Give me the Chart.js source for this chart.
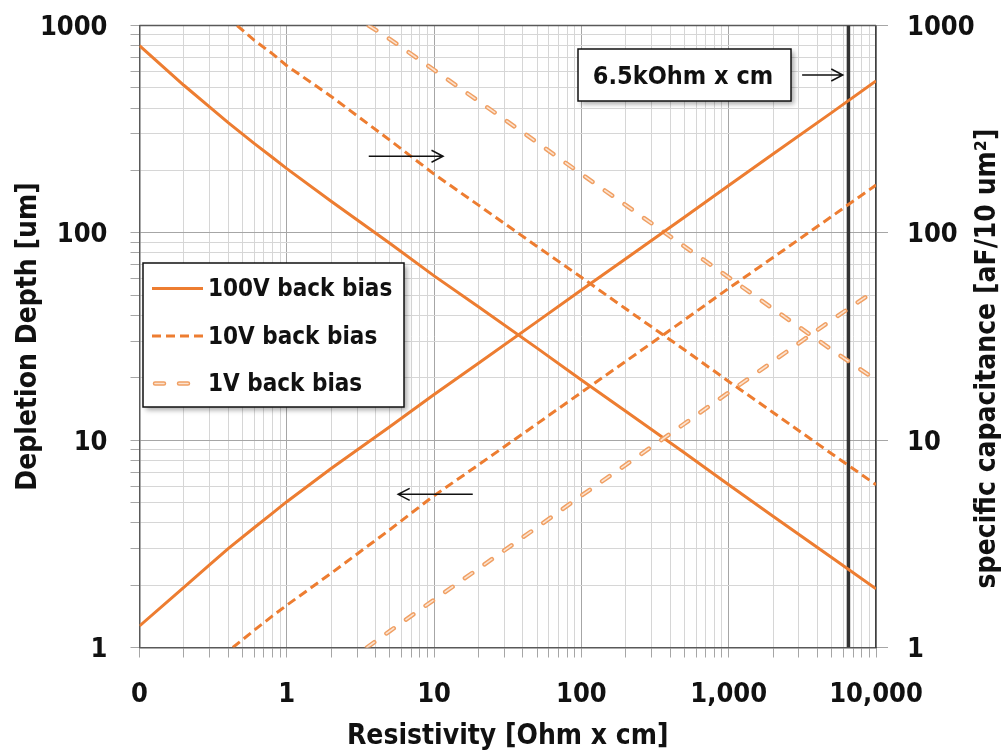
<!DOCTYPE html>
<html lang="en">
<head>
  <meta charset="UTF-8">
  <title>Depletion depth and capacitance vs resistivity</title>
  <script src="https://cdn.jsdelivr.net/npm/chart.js"></script>
  <style>
    body {
      margin: 0;
      background: #fff;
    }
    #wrap {
      width: 1006px;
      height: 755px;
    }
  </style>
</head>
<body>

  <div id="wrap"><canvas id="grafico"></canvas></div>

  <script>
    // depletion depth [um] vs resistivity [Ohm x cm]
    const rho100 = [0.1, 0.2, 0.3, 0.4, 0.6, 0.8, 1, 2, 5, 10, 20, 50, 100, 200, 500, 1000, 2000, 5000, 10000];
    const depth100 = [1.27, 1.95, 2.51, 3.0, 3.78, 4.45, 5.05, 7.3, 11.6, 16.6, 23.5, 37.3, 53, 75, 119, 169, 240, 380, 540];
    const rho10 = [0.43, 0.6, 0.8, 1, 2, 5, 10, 20, 50, 100, 200, 500, 1000, 2000, 5000, 10000];
    const depth10 = [1.0, 1.21, 1.42, 1.6, 2.28, 3.7, 5.4, 7.6, 12.0, 17.0, 24, 38, 54, 76, 120, 170];
    const rho1 = [3.5, 5, 10, 20, 50, 100, 200, 500, 1000, 2000, 5000, 10000];
    const depth1 = [1.0, 1.2, 1.7, 2.4, 3.8, 5.4, 7.6, 12.0, 17.0, 24, 38, 53];

    // specific capacitance [aF/10 um2] vs resistivity
    const rhoCap100 = [0.1, 0.2, 0.3, 0.4, 0.6, 0.8, 1, 2, 5, 10, 20, 50, 100, 200, 500, 1000, 2000, 5000, 10000];
    const cap100 = [800, 515, 404, 340, 270, 231, 204, 142, 89, 62, 44, 27.8, 19.5, 13.8, 8.7, 6.1, 4.3, 2.72, 1.92];
    const rhoCap10 = [0.46, 0.6, 0.8, 1, 2, 5, 10, 20, 50, 100, 200, 500, 1000, 2000, 5000, 10000];
    const cap10 = [1000, 850, 730, 640, 455, 280, 192, 136, 86, 61, 43, 27.3, 19.2, 13.6, 8.6, 6.1];
    const rhoCap1 = [3.6, 5, 10, 20, 50, 100, 200, 500, 1000, 2000, 5000, 10000];
    const cap1 = [1000, 860, 610, 432, 273, 192, 136, 86, 61, 43, 27.3, 19.5];

    const biasLabels = ['100V back bias', '10V back bias', '1V back bias'];

    // 6.5 kOhm x cm marker
    const markerRho = 6500;
    const markerLabel = '6.5kOhm x cm';

    const xTickValues = [0.1, 1, 10, 100, 1000, 10000];
    const xTickLabels = ['0', '1', '10', '100', '1,000', '10,000'];
    const yTickValues = [1, 10, 100, 1000];
    const yTickLabels = ['1', '10', '100', '1000'];

    const FONT = '"DejaVu Sans Condensed", "DejaVu Sans", sans-serif';
    const TXT = '#111';
    const ORANGE = '#ED7D31';
    const LIGHT_ORANGE = '#F0A064';
    const PALE = '#FCE3D0';

    Chart.defaults.font.family = FONT;
    Chart.defaults.color = TXT;

    const pairs = (xs, ys) => xs.map((x, i) => ({ x: x, y: ys[i] }));

    function logTicks(minExp, maxExp) {
      const out = [];
      for (let e = minExp; e < maxExp; e++) {
        for (let m = 1; m < 10; m++) out.push(Number((m * Math.pow(10, e)).toPrecision(3)));
      }
      out.push(Math.pow(10, maxExp));
      return out;
    }
    const isMajor = v => Math.abs(Math.log10(v) - Math.round(Math.log10(v))) < 1e-9;
    const gridColor = c => (c.tick && isMajor(c.tick.value)) ? '#a6a6a6' : '#d6d6d6';
    const labelFor = (values, labels) => v => {
      const i = values.findIndex(t => Math.abs(t - v) < 1e-9);
      return i >= 0 ? labels[i] : '';
    };

    // fixed axis sizes; label overhang must not push the plot area in
    const fixSize = (w, h) => s => {
      if (w !== null) s.width = w;
      if (h !== null) s.height = h;
      s.paddingTop = s.paddingBottom = s.paddingLeft = s.paddingRight = 0;
    };

    // 1V curves get a pale core stroked over the dashes
    const lineStyle = [
      { borderColor: ORANGE, borderWidth: 3, borderDash: [] },
      { borderColor: ORANGE, borderWidth: 3, borderDash: [9, 5] },
      { borderColor: LIGHT_ORANGE, borderWidth: 4.5, borderDash: [9, 15], borderCapStyle: 'round', hollow: true }
    ];

    function serie(label, data, style, axis) {
      return Object.assign({
        label: label,
        data: data,
        yAxisID: axis,
        pointRadius: 0,
        fill: false,
        tension: 0
      }, style);
    }

    const datasets = [
      serie(biasLabels[0], pairs(rho100, depth100), lineStyle[0], 'y'),
      serie(biasLabels[1], pairs(rho10, depth10), lineStyle[1], 'y'),
      serie(biasLabels[2], pairs(rho1, depth1), lineStyle[2], 'y'),
      serie(biasLabels[0], pairs(rhoCap100, cap100), lineStyle[0], 'y2'),
      serie(biasLabels[1], pairs(rhoCap10, cap10), lineStyle[1], 'y2'),
      serie(biasLabels[2], pairs(rhoCap1, cap1), lineStyle[2], 'y2'),
      {
        label: markerLabel,
        data: [{ x: markerRho, y: 1 }, { x: markerRho, y: 1000 }],
        yAxisID: 'y',
        borderColor: '#333',
        borderWidth: 3.5,
        pointRadius: 0
      }
    ];

    // arrows: which axis the curves belong to, and the marker pointer
    const arrows = [
      { from: [3.6, 234], to: [11.5, 234] },
      { from: [18.3, 5.48], to: [5.7, 5.48] },
      { from: [3150, 577], to: [5950, 577] }
    ];

    function drawArrow(ctx, x1, y1, x2, y2) {
      const a = Math.atan2(y2 - y1, x2 - x1);
      const head = 13, spread = 0.48;
      ctx.beginPath();
      ctx.moveTo(x1, y1);
      ctx.lineTo(x2, y2);
      ctx.moveTo(x2 - head * Math.cos(a - spread), y2 - head * Math.sin(a - spread));
      ctx.lineTo(x2, y2);
      ctx.lineTo(x2 - head * Math.cos(a + spread), y2 - head * Math.sin(a + spread));
      ctx.stroke();
    }

    function shadowBox(ctx, x, y, w, h) {
      ctx.save();
      ctx.shadowColor = 'rgba(0,0,0,0.35)';
      ctx.shadowBlur = 5;
      ctx.shadowOffsetX = 3;
      ctx.shadowOffsetY = 3;
      ctx.fillStyle = '#fff';
      ctx.fillRect(x, y, w, h);
      ctx.restore();
      ctx.strokeStyle = '#111';
      ctx.lineWidth = 1.5;
      ctx.strokeRect(x, y, w, h);
    }

    const extras = {
      id: 'extras',
      beforeDatasetsDraw(chart) {
        // top edge of the plot frame
        const { ctx, chartArea: a } = chart;
        ctx.save();
        ctx.strokeStyle = '#595959';
        ctx.lineWidth = 1.5;
        ctx.beginPath();
        ctx.moveTo(a.left, a.top);
        ctx.lineTo(a.right, a.top);
        ctx.stroke();
        ctx.restore();
      },
      afterDatasetDraw(chart, args) {
        const ds = chart.data.datasets[args.index];
        if (!ds.hollow) return;
        const { ctx, chartArea: a } = chart;
        ctx.save();
        ctx.beginPath();
        ctx.rect(a.left, a.top, a.right - a.left, a.bottom - a.top);
        ctx.clip();
        ctx.beginPath();
        args.meta.dataset.path(ctx);
        ctx.setLineDash(ds.borderDash);
        ctx.lineCap = 'round';
        ctx.lineJoin = 'round';
        ctx.strokeStyle = PALE;
        ctx.lineWidth = 1.6;
        ctx.stroke();
        ctx.restore();
      },
      afterDraw(chart) {
        const { ctx, scales } = chart;
        const sx = scales.x, sy = scales.y;
        ctx.save();

        // arrows
        ctx.strokeStyle = '#111';
        ctx.lineWidth = 1.5;
        arrows.forEach(ar => {
          drawArrow(ctx,
            sx.getPixelForValue(ar.from[0]), sy.getPixelForValue(ar.from[1]),
            sx.getPixelForValue(ar.to[0]), sy.getPixelForValue(ar.to[1]));
        });

        // marker label box
        const bx = 578, by = 49, bw = 213, bh = 52;
        shadowBox(ctx, bx, by, bw, bh);
        ctx.fillStyle = TXT;
        ctx.font = 'bold 25px ' + FONT;
        ctx.textAlign = 'center';
        ctx.textBaseline = 'middle';
        ctx.fillText(markerLabel, 683, 77.5);

        // legend
        const lx = 143, ly = 263, lw = 261, lh = 144;
        shadowBox(ctx, lx, ly, lw, lh);
        ctx.font = 'bold 24px ' + FONT;
        ctx.textAlign = 'left';
        for (let i = 0; i < 3; i++) {
          const ds = chart.data.datasets[i];
          const ry = ly + 25.5 + i * 47.5;
          const x0 = ds.hollow ? 155 : 152;
          const x1 = ds.hollow ? 200 : 203;
          ctx.save();
          ctx.strokeStyle = ds.borderColor;
          ctx.lineWidth = ds.borderWidth;
          ctx.setLineDash(ds.borderDash || []);
          ctx.lineCap = ds.borderCapStyle || 'butt';
          ctx.beginPath();
          ctx.moveTo(x0, ry);
          ctx.lineTo(x1, ry);
          ctx.stroke();
          if (ds.hollow) {
            ctx.strokeStyle = PALE;
            ctx.lineWidth = 1.6;
            ctx.stroke();
          }
          ctx.restore();
          ctx.fillStyle = TXT;
          ctx.fillText(ds.label, 208, ry + 1.6);
        }

        // right axis title, reading bottom to top
        ctx.font = 'bold 28px ' + FONT;
        ctx.translate(988, 358.5);
        ctx.rotate(-Math.PI / 2);
        ctx.textAlign = 'center';
        ctx.fillText('specific capacitance [aF/10 um\u00B2]', 0, 0);
        ctx.restore();
      }
    };

    const ctx = document.getElementById('grafico').getContext('2d');
    const grafico = new Chart(ctx, {
      type: 'line',
      data: { datasets: datasets },
      plugins: [extras],
      options: {
        responsive: true,
        maintainAspectRatio: false,
        animation: false,
        layout: { padding: { top: 25.5, left: 0, right: 0, bottom: 0 } },
        plugins: {
          legend: { display: false },
          tooltip: { enabled: false }
        },
        scales: {
          x: {
            type: 'logarithmic',
            min: 0.1,
            max: 10000,
            afterBuildTicks: s => { s.ticks = logTicks(-1, 4).map(v => ({ value: v })); },
            afterFit: fixSize(null, 107.5),
            border: { color: '#595959', width: 1.5 },
            grid: { color: gridColor, tickColor: '#a6a6a6', tickLength: 10, lineWidth: 1 },
            ticks: {
              autoSkip: false,
              maxRotation: 0,
              minRotation: 0,
              padding: 21,
              font: { size: 27, weight: 'bold' },
              callback: labelFor(xTickValues, xTickLabels)
            },
            title: {
              display: true,
              text: 'Resistivity [Ohm x cm]',
              font: { size: 28, weight: 'bold' },
              padding: { top: 0, bottom: 1 }
            }
          },
          y: {
            type: 'logarithmic',
            position: 'left',
            min: 1,
            max: 1000,
            afterBuildTicks: s => { s.ticks = logTicks(0, 3).map(v => ({ value: v })); },
            afterFit: fixSize(139.5, null),
            border: { color: '#595959', width: 1.5 },
            grid: { color: gridColor, tickColor: '#a6a6a6', tickLength: 9, lineWidth: 1 },
            ticks: {
              autoSkip: false,
              padding: 23,
              labelOffset: 2.5,
              font: { size: 27, weight: 'bold' },
              callback: labelFor(yTickValues, yTickLabels)
            },
            title: {
              display: true,
              text: 'Depletion Depth [um]',
              font: { size: 28, weight: 'bold' },
              padding: { top: 11.5, bottom: 0 }
            }
          },
          y2: {
            type: 'logarithmic',
            position: 'right',
            min: 1,
            max: 1000,
            afterBuildTicks: s => { s.ticks = logTicks(0, 3).map(v => ({ value: v })); },
            afterFit: fixSize(130, null),
            border: { color: '#404040', width: 1.5 },
            grid: {
              drawOnChartArea: false,
              tickLength: 12,
              tickColor: c => (c.tick && isMajor(c.tick.value)) ? '#a6a6a6' : 'rgba(0,0,0,0)'
            },
            ticks: {
              autoSkip: false,
              padding: 19,
              labelOffset: 2.5,
              font: { size: 27, weight: 'bold' },
              callback: labelFor(yTickValues, yTickLabels)
            }
          }
        }
      }
    });
  </script>

</body>
</html>
